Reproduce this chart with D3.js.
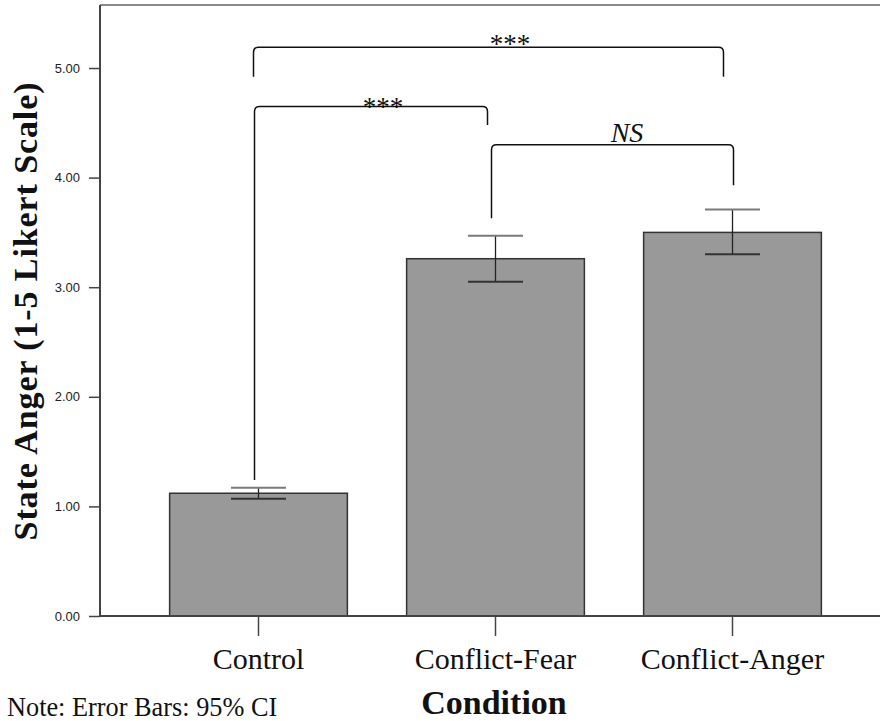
<!DOCTYPE html>
<html>
<head>
<meta charset="utf-8">
<script src="https://cdn.jsdelivr.net/npm/d3@7"></script>
<style>
  body { margin: 0; background: #fff; }
  svg { display: block; }
</style>
</head>
<body>
<div id="chart"></div>
<script>
// data
let conditions = ["Control", "Conflict-Fear", "Conflict-Anger"];
let means = [1.12, 3.26, 3.50];
let ciLow = [1.07, 3.05, 3.30];
let ciHigh = [1.17, 3.47, 3.71];
let yTicks = [0, 1, 2, 3, 4, 5];

// significance brackets: from, to, top value, bottom of left leg, bottom of right leg, label
let bracketFrom = ["Control", "Control", "Conflict-Fear"];
let bracketTo = ["Conflict-Anger", "Conflict-Fear", "Conflict-Anger"];
let bracketTop = [5.19, 4.65, 4.30];
let bracketLeftEnd = [4.92, 1.24, 3.63];
let bracketRightEnd = [4.92, 4.48, 3.93];
let bracketLabels = ["***", "***", "NS"];

function drawChart(id) {
  let width = 880, height = 721;
  let left = 100, right = 880, top = 5, bottom = 616;

  let svg = d3.select(id)
    .append("svg")
    .attr("width", width)
    .attr("height", height);

  let x = d3.scaleBand()
    .domain(conditions)
    .range([140, 851])
    .paddingInner(0.25)
    .paddingOuter(0.125);

  let y = d3.scaleLinear()
    .domain([0, 5.575])
    .range([bottom, top]);

  let cx = d => x(d) + x.bandwidth() / 2;

  // top frame line
  svg.append("line")
    .attr("x1", left).attr("x2", right)
    .attr("y1", top).attr("y2", top)
    .attr("stroke", "#8a8a8a")
    .attr("stroke-width", 2);

  // bars
  svg.selectAll("rect.bar")
    .data(conditions)
    .enter()
    .append("rect")
    .attr("class", "bar")
    .attr("x", d => x(d))
    .attr("width", x.bandwidth())
    .attr("y", (d, i) => y(means[i]))
    .attr("height", (d, i) => y(0) - y(means[i]))
    .attr("fill", "#999999")
    .attr("stroke", "#333")
    .attr("stroke-width", 1.5);

  // error bars
  let capW = 55;
  let eb = svg.selectAll("g.err")
    .data(conditions)
    .enter()
    .append("g")
    .attr("class", "err");
  eb.append("line")
    .attr("x1", d => cx(d)).attr("x2", d => cx(d))
    .attr("y1", (d, i) => y(ciLow[i])).attr("y2", (d, i) => y(ciHigh[i]))
    .attr("stroke", "#222").attr("stroke-width", 1.3);
  eb.append("line")
    .attr("x1", d => cx(d) - capW / 2).attr("x2", d => cx(d) + capW / 2)
    .attr("y1", (d, i) => y(ciHigh[i])).attr("y2", (d, i) => y(ciHigh[i]))
    .attr("stroke", "#7a7a7a").attr("stroke-width", 2);
  eb.append("line")
    .attr("x1", d => cx(d) - capW / 2).attr("x2", d => cx(d) + capW / 2)
    .attr("y1", (d, i) => y(ciLow[i])).attr("y2", (d, i) => y(ciLow[i]))
    .attr("stroke", "#333").attr("stroke-width", 2);

  // y axis
  let yAxis = svg.append("g")
    .attr("transform", "translate(" + left + ",0)")
    .call(d3.axisLeft(y).tickValues(yTicks).tickFormat(d3.format(".2f")).tickSize(11).tickPadding(9));
  yAxis.select(".domain").remove();
  yAxis.selectAll(".tick line").attr("stroke", "#444").attr("stroke-width", 1.5);
  yAxis.selectAll(".tick text")
    .attr("font-family", "Liberation Sans, Arial, sans-serif")
    .attr("font-size", 13)
    .attr("fill", "#222");

  svg.append("line")
    .attr("x1", left).attr("x2", left)
    .attr("y1", top).attr("y2", bottom)
    .attr("stroke", "#444").attr("stroke-width", 2);

  // x axis
  let xAxis = svg.append("g")
    .attr("transform", "translate(0," + bottom + ")")
    .call(d3.axisBottom(x).tickSize(20).tickPadding(12));
  xAxis.select(".domain").remove();
  xAxis.selectAll(".tick line").attr("stroke", "#444").attr("stroke-width", 1.5);
  xAxis.selectAll(".tick text")
    .attr("font-family", "Liberation Serif, Times New Roman, serif")
    .attr("font-size", 30)
    .attr("fill", "#111");

  svg.append("line")
    .attr("x1", left).attr("x2", right)
    .attr("y1", bottom).attr("y2", bottom)
    .attr("stroke", "#444").attr("stroke-width", 2);

  // brackets
  let legOffset = [[-5, -9], [-4, -8], [-4, 1]];
  let r = 5;
  bracketFrom.forEach((from, i) => {
    let x1 = cx(from) + legOffset[i][0];
    let x2 = cx(bracketTo[i]) + legOffset[i][1];
    let yt = y(bracketTop[i]);
    let y1 = y(bracketLeftEnd[i]);
    let y2 = y(bracketRightEnd[i]);
    let p = d3.path();
    p.moveTo(x1, y1);
    p.lineTo(x1, yt + r);
    p.quadraticCurveTo(x1, yt, x1 + r, yt);
    p.lineTo(x2 - r, yt);
    p.quadraticCurveTo(x2, yt, x2, yt + r);
    p.lineTo(x2, y2);
    svg.append("path")
      .attr("d", p.toString())
      .attr("fill", "none")
      .attr("stroke", "#111")
      .attr("stroke-width", 1.5);
  });

  // bracket labels
  let labelX = [510, 383, 627];
  let labelDy = [6, 10, -3];
  bracketLabels.forEach((t, i) => {
    svg.append("text")
      .attr("x", labelX[i])
      .attr("y", y(bracketTop[i]) + labelDy[i])
      .attr("text-anchor", "middle")
      .attr("font-family", "Liberation Serif, Times New Roman, serif")
      .attr("font-style", t === "NS" ? "italic" : "normal")
      .attr("font-size", t === "NS" ? 28 : 27)
      .attr("fill", "#111")
      .text(t);
  });

  // axis titles
  svg.append("text")
    .attr("transform", "translate(37," + 311 + ") rotate(-90)")
    .attr("text-anchor", "middle")
    .attr("font-family", "Liberation Serif, Times New Roman, serif")
    .attr("font-weight", "bold")
    .attr("font-size", 34)
    .attr("letter-spacing", 0.9)
    .attr("fill", "#111")
    .text("State Anger (1-5 Likert Scale)");

  svg.append("text")
    .attr("x", 494)
    .attr("y", 714)
    .attr("text-anchor", "middle")
    .attr("font-family", "Liberation Serif, Times New Roman, serif")
    .attr("font-weight", "bold")
    .attr("font-size", 34)
    .attr("fill", "#111")
    .text("Condition");

  svg.append("text")
    .attr("x", 7)
    .attr("y", 716)
    .attr("font-family", "Liberation Serif, Times New Roman, serif")
    .attr("font-size", 26.3)
    .attr("fill", "#111")
    .text("Note: Error Bars: 95% CI");
}

drawChart("#chart");
</script>
</body>
</html>
